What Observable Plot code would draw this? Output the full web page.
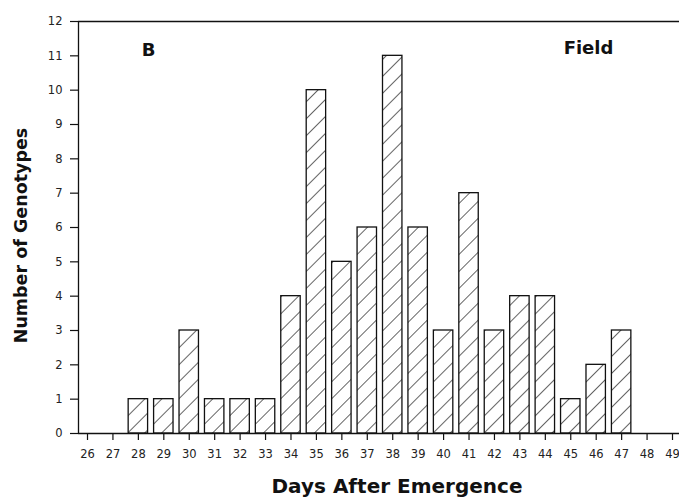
<!DOCTYPE html>
<html><head><meta charset="utf-8">
<script src="https://cdn.jsdelivr.net/npm/d3@7"></script>
<script src="https://cdn.jsdelivr.net/npm/@observablehq/plot@0.6"></script>
<style>
body{margin:0;background:#fff;}
svg{font-family:"DejaVu Sans",sans-serif;}
svg g[aria-label$="tick label"]{font-size:11.5px !important;fill:#222;}
.lbl text, text.lbl{font-weight:bold;font-family:"DejaVu Sans",sans-serif;}
</style>
</head><body><div id="chart"></div>
<script>
const days = [26,27,28,29,30,31,32,33,34,35,36,37,38,39,40,41,42,43,44,45,46,47,48,49];
const counts = [0,0,1,1,3,1,1,1,4,10,5,6,11,6,3,7,3,4,4,1,2,3,0,0];
const yTicks = [0,1,2,3,4,5,6,7,8,9,10,11,12];
const data = days.map((d,i)=>({day:d,count:counts[i]})).filter(d=>d.count>0);

const chart = Plot.plot({
  width:679, height:497,
  marginLeft:78, marginRight:0, marginTop:21, marginBottom:64,
  style:{background:"#fff",color:"#111",fontFamily:"DejaVu Sans, sans-serif"},
  x:{domain:[25.646,49.275], ticks:days, tickFormat:d=>String(d)},
  y:{domain:[0,12], ticks:yTicks},
  marks:[
    Plot.rectY(data,{x1:d=>d.day-0.5,x2:d=>d.day+0.5,y:"count",insetLeft:3,insetRight:3,fill:"url(#hatch)",stroke:"#111",strokeWidth:1.3}),
    Plot.axisX({ticks:days,tickSize:7,tickPadding:9,label:null,strokeWidth:1.2}),
    Plot.axisY({ticks:yTicks,tickSize:8,tickPadding:8,label:null,strokeWidth:1.2}),
    Plot.ruleY([0,12],{stroke:"#111",strokeWidth:1.3}),
    Plot.ruleX([25.646],{stroke:"#111",strokeWidth:1.3}),
    Plot.text(["Number of Genotypes"],{frameAnchor:"left",dx:-57,dy:8,rotate:-90,textAnchor:"middle",lineAnchor:"middle",fontSize:17.5,className:"lbl",fill:"#111"}),
    Plot.text(["Days After Emergence"],{frameAnchor:"bottom",dx:18,dy:53,textAnchor:"middle",lineAnchor:"middle",fontSize:20,className:"lbl",fill:"#111"}),
    Plot.text(["B"],{frameAnchor:"top-left",dx:70,dy:29,textAnchor:"middle",lineAnchor:"middle",fontSize:18,className:"lbl",fill:"#111"}),
    Plot.text(["Field"],{frameAnchor:"top-right",dx:-91,dy:27,textAnchor:"middle",lineAnchor:"middle",fontSize:18,className:"lbl",fill:"#111"})
  ]
});
const svg = d3.select(chart);
const defs = svg.insert("defs",":first-child");
const p = defs.append("pattern").attr("id","hatch").attr("patternUnits","userSpaceOnUse")
  .attr("width",12).attr("height",12).attr("patternTransform","rotate(45)");
p.append("rect").attr("width",12).attr("height",12).attr("fill","#fff");
p.append("line").attr("x1",0).attr("y1",0).attr("x2",0).attr("y2",12).attr("stroke","#111").attr("stroke-width",1.3);
document.getElementById("chart").appendChild(chart);
</script></body></html>
